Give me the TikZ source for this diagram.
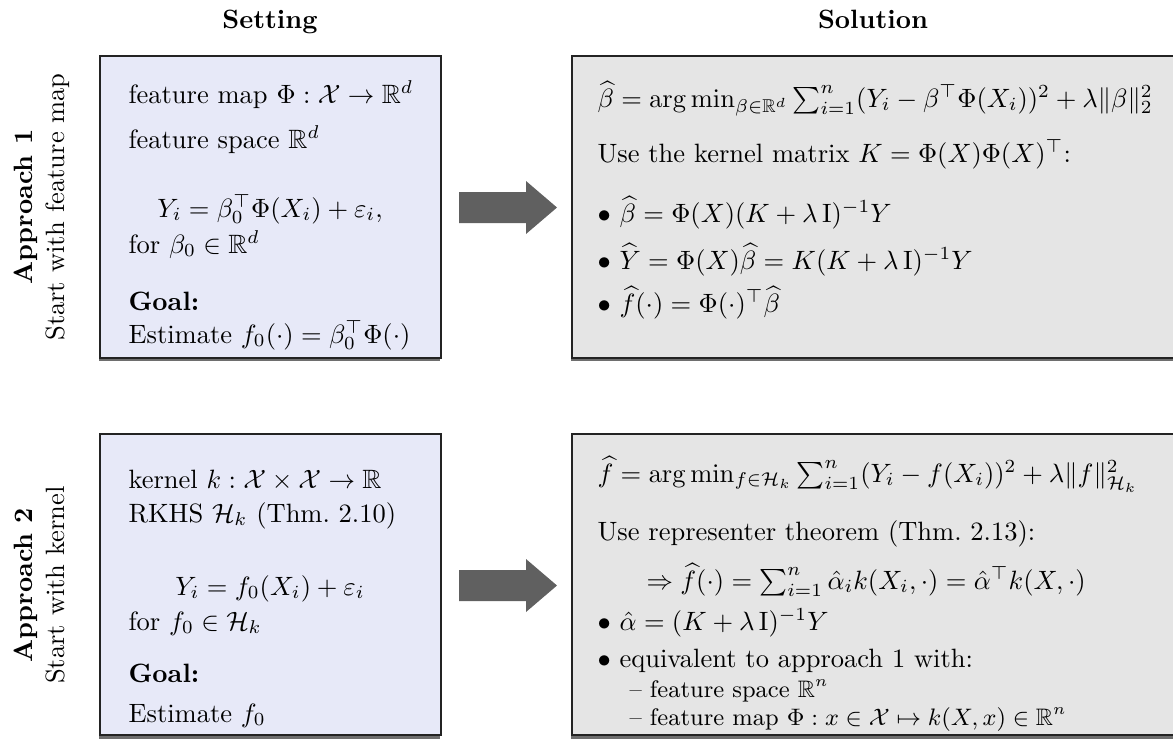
\documentclass[tikz,border=0pt]{standalone}
\usepackage{amsmath,amssymb}
\usetikzlibrary{fit}
\definecolor{setfill}{RGB}{231,233,248}
\definecolor{solfill}{RGB}{229,229,229}
\definecolor{arrfill}{RGB}{96,96,96}
\definecolor{boxline}{RGB}{35,35,35}
\definecolor{shadowcol}{RGB}{110,110,110}
\begin{document}
\begin{tikzpicture}[x=0.3774pt,y=-0.3774pt,
  setbox/.style={draw=boxline, line width=0.5pt, fill=setfill, inner sep=0pt},
  solbox/.style={draw=boxline, line width=0.5pt, fill=solfill, inner sep=0pt},
  boxshadow/.style={fill=shadowcol, draw=none},
  txt/.style={anchor=base west, inner sep=0pt},
  ctxt/.style={anchor=base, inner sep=0pt},
  head/.style={anchor=base, inner sep=0pt, font=\bfseries},
  sidelab/.style={rotate=90, anchor=base, inner sep=0pt},
  sub/.style={anchor=base west, inner sep=0pt, font=\small},
  bigarrow/.style={fill=arrfill}]
\useasboundingbox (0,0) rectangle (1173,738);

% shadows
\fill[boxshadow] (98.5,58) rectangle (439.5,360.5);
\fill[boxshadow] (570.5,58) rectangle (1176,360.5);
\fill[boxshadow] (98.5,436) rectangle (439.5,738.5);
\fill[boxshadow] (570.5,436) rectangle (1176,738.5);

% boxes
\node[setbox, fit={(100,56) (441,358)}] (s1) {};
\node[solbox, fit={(572,56) (1174,358)}] (r1) {};
\node[setbox, fit={(100,434) (441,735)}] (s2) {};
\node[solbox, fit={(572,434) (1174,735)}] (r2) {};

% headers
\node[head] (hset) at (270,28) {Setting};
\node[head] (hsol) at (873,28) {Solution};

% side labels
\node[sidelab, font=\bfseries] (ap1) at (32,207) {Approach 1};
\node[sidelab] (sw1) at (65,207) {Start with feature map};
\node[sidelab, font=\bfseries] (ap2) at (32,585) {Approach 2};
\node[sidelab] (sw2) at (65,585) {Start with kernel};

% arrows
\coordinate (a1) at (508,207.5);
\coordinate (a2) at (508,585.5);
\foreach \c in {a1,a2}{
  \fill[bigarrow] (\c) ++(-49,-15.5) -- ++(67,0) -- ++(0,-11) -- ++(31,26.5)
    -- ++(-31,26.5) -- ++(0,-11) -- ++(-67,0) -- cycle;
}

% top-left
\node[txt] (t1) at (128,103) {feature map $\Phi:\mathcal{X}\to\mathbb{R}^d$};
\node[txt] (t2) at (128,148) {feature space $\mathbb{R}^d$};
\node[ctxt] (t3) at (270,217) {$Y_i=\beta_0^\top\Phi(X_i)+\varepsilon_i,$};
\node[txt] (t4) at (128,253) {for $\beta_0\in\mathbb{R}^d$};
\node[txt] (t5) at (128,310) {\textbf{Goal:}};
\node[txt] (t6) at (128,343) {Estimate $f_0(\cdot)=\beta_0^\top\Phi(\cdot)$};

% top-right
\node[txt] (u1) at (597,107) {$\widehat{\beta}=\arg\min_{\beta\in\mathbb{R}^d}\sum_{i=1}^n(Y_i-\beta^\top\Phi(X_i))^2+\lambda\|\beta\|_2^2$};
\node[txt] (u2) at (597,162) {Use the kernel matrix $K=\Phi(X)\Phi(X)^\top$:};
\node[txt] (u3) at (597,222) {$\bullet$ $\widehat{\beta}=\Phi(X)(K+\lambda\,\mathrm{I})^{-1}Y$};
\node[txt] (u4) at (597,269) {$\bullet$ $\widehat{Y}=\Phi(X)\widehat{\beta}=K(K+\lambda\,\mathrm{I})^{-1}Y$};
\node[txt] (u5) at (597,312) {$\bullet$ $\widehat{f}(\cdot)=\Phi(\cdot)^\top\widehat{\beta}$};

% bottom-left
\node[txt] (v1) at (128,488) {kernel $k:\mathcal{X}\times\mathcal{X}\to\mathbb{R}$};
\node[txt] (v2) at (128,522) {RKHS $\mathcal{H}_k$ (Thm.~2.10)};
\node[ctxt] (v3) at (270,595) {$Y_i=f_0(X_i)+\varepsilon_i$};
\node[txt] (v4) at (128,630) {for $f_0\in\mathcal{H}_k$};
\node[txt] (v5) at (128,682) {\textbf{Goal:}};
\node[txt] (v6) at (128,722) {Estimate $f_0$};

% bottom-right
\node[txt] (w1) at (597,482) {$\widehat{f}=\arg\min_{f\in\mathcal{H}_k}\sum_{i=1}^n(Y_i-f(X_i))^2+\lambda\|f\|_{\mathcal{H}_k}^2$};
\node[txt] (w2) at (597,540) {Use representer theorem (Thm.~2.13):};
\node[txt] (w3) at (646,589) {$\Rightarrow\widehat{f}(\cdot)=\sum_{i=1}^n\hat{\alpha}_ik(X_i,\cdot)=\hat{\alpha}^\top k(X,\cdot)$};
\node[txt] (w4) at (597,630) {$\bullet$ $\hat{\alpha}=(K+\lambda\,\mathrm{I})^{-1}Y$};
\node[txt] (w5) at (597,667) {$\bullet$ equivalent to approach 1 with:};
\node[sub] (w6) at (629,697) {\textendash{} feature space $\mathbb{R}^n$};
\node[sub] (w7) at (629,725) {\textendash{} feature map $\Phi:x\in\mathcal{X}\mapsto k(X,x)\in\mathbb{R}^n$};
\end{tikzpicture}
\end{document}
